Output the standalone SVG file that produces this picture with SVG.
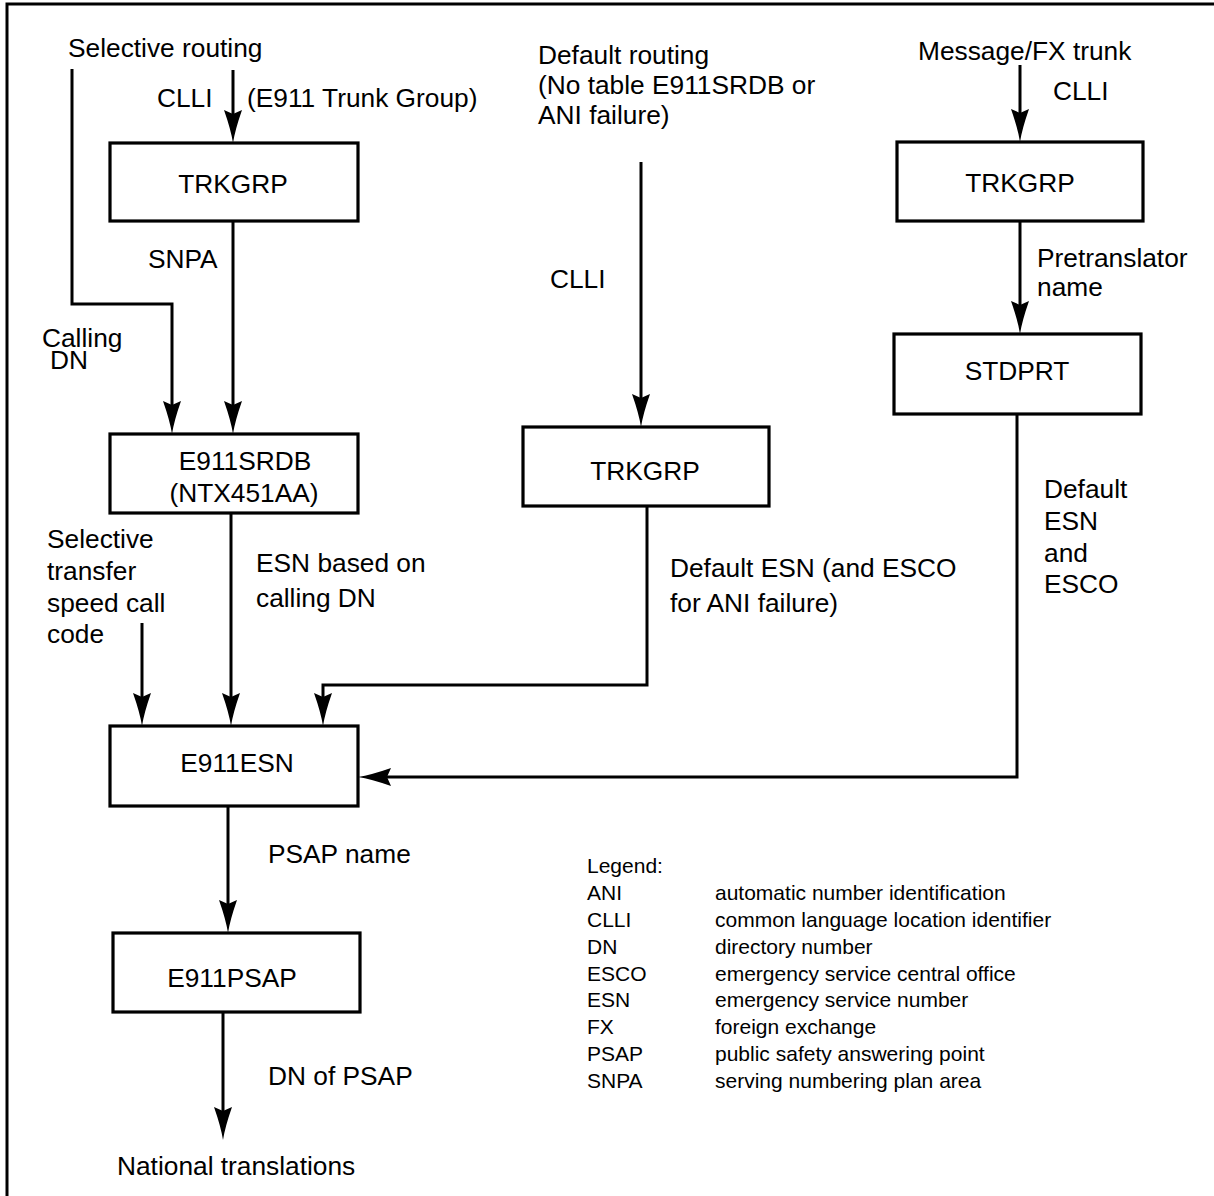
<svg xmlns="http://www.w3.org/2000/svg" width="1214" height="1196" viewBox="0 0 1214 1196">
<defs>
<style>
text{font-family:"Liberation Sans",Arial,sans-serif;font-size:26.3px;fill:#000}
.c{text-anchor:middle}
.lg{font-size:21px}
.box{fill:#fff;stroke:#000;stroke-width:3.2}
.ln{fill:none;stroke:#000;stroke-width:3}
</style>
<marker id="ah" viewBox="0 0 33 18" refX="23" refY="9" markerWidth="33" markerHeight="18" markerUnits="userSpaceOnUse" orient="auto">
<path d="M0,0 Q20,7 33,9 Q20,11 0,18 L4,9 Z" fill="#000"/>
</marker>
</defs>
<rect width="1214" height="1196" fill="#fff"/>
<path d="M7,1196 V4 H1214" fill="none" stroke="#000" stroke-width="3"/>

<g id="connectors">
<path class="ln" d="M72,69 V304 H172 V424" marker-end="url(#ah)"/>
<path class="ln" d="M233,70 V133" marker-end="url(#ah)"/>
<path class="ln" d="M233,221 V424" marker-end="url(#ah)"/>
<path class="ln" d="M231,513 V716" marker-end="url(#ah)"/>
<path class="ln" d="M142,623 V716" marker-end="url(#ah)"/>
<path class="ln" d="M641,162 V417" marker-end="url(#ah)"/>
<path class="ln" d="M647,506 V685 H323 V716" marker-end="url(#ah)"/>
<path class="ln" d="M1020,65 V132" marker-end="url(#ah)"/>
<path class="ln" d="M1020,221 V324" marker-end="url(#ah)"/>
<path class="ln" d="M1017,414 V777 H368" marker-end="url(#ah)"/>
<path class="ln" d="M228,806 V923" marker-end="url(#ah)"/>
<path class="ln" d="M223,1012 V1130" marker-end="url(#ah)"/>
</g>

<g id="labels">
<text x="68" y="57">Selective routing</text>
<text x="157" y="107">CLLI</text>
<text x="247" y="107">(E911 Trunk Group)</text>
<text x="538" y="64">Default routing</text>
<text x="538" y="94">(No table E911SRDB or</text>
<text x="538" y="124">ANI failure)</text>
<text x="550" y="288">CLLI</text>
<text x="918" y="60">Message/FX trunk</text>
<text x="1053" y="100">CLLI</text>
<text x="148" y="268">SNPA</text>
<text x="42" y="347">Calling</text>
<text x="50" y="369">DN</text>
<text x="1037" y="267">Pretranslator</text>
<text x="1037" y="296">name</text>
<text x="47" y="548">Selective</text>
<text x="47" y="580">transfer</text>
<text x="47" y="612">speed call</text>
<text x="47" y="643">code</text>
<text x="256" y="572">ESN based on</text>
<text x="256" y="607">calling DN</text>
<text x="670" y="577">Default ESN (and ESCO</text>
<text x="670" y="612">for ANI failure)</text>
<text x="1044" y="498">Default</text>
<text x="1044" y="530">ESN</text>
<text x="1044" y="562">and</text>
<text x="1044" y="593">ESCO</text>
<text x="268" y="863">PSAP name</text>
<text x="268" y="1085">DN of PSAP</text>
<text x="117" y="1175">National translations</text>
</g>

<g id="trkgrp-1"><rect class="box" x="110" y="143" width="248" height="78"/><text class="c" x="233" y="193">TRKGRP</text></g>
<g id="trkgrp-2"><rect class="box" x="523" y="427" width="246" height="79"/><text class="c" x="645" y="480">TRKGRP</text></g>
<g id="trkgrp-3"><rect class="box" x="897" y="142" width="246" height="79"/><text class="c" x="1020" y="192">TRKGRP</text></g>
<g id="stdprt"><rect class="box" x="894" y="334" width="247" height="80"/><text class="c" x="1017" y="380">STDPRT</text></g>
<g id="e911srdb"><rect class="box" x="110" y="434" width="248" height="79"/><text class="c" x="245" y="470">E911SRDB</text><text class="c" x="244" y="502">(NTX451AA)</text></g>
<g id="e911esn"><rect class="box" x="110" y="726" width="248" height="80"/><text class="c" x="237" y="772">E911ESN</text></g>
<g id="e911psap"><rect class="box" x="113" y="933" width="247" height="79"/><text class="c" x="232" y="987">E911PSAP</text></g>

<g id="legend" class="lg">
<text class="lg" x="587" y="873">Legend:</text>
<text class="lg" x="587" y="900">ANI</text><text class="lg" x="715" y="900">automatic number identification</text>
<text class="lg" x="587" y="927">CLLI</text><text class="lg" x="715" y="927">common language location identifier</text>
<text class="lg" x="587" y="954">DN</text><text class="lg" x="715" y="954">directory number</text>
<text class="lg" x="587" y="981">ESCO</text><text class="lg" x="715" y="981">emergency service central office</text>
<text class="lg" x="587" y="1007">ESN</text><text class="lg" x="715" y="1007">emergency service number</text>
<text class="lg" x="587" y="1034">FX</text><text class="lg" x="715" y="1034">foreign exchange</text>
<text class="lg" x="587" y="1061">PSAP</text><text class="lg" x="715" y="1061">public safety answering point</text>
<text class="lg" x="587" y="1088">SNPA</text><text class="lg" x="715" y="1088">serving numbering plan area</text>
</g>
</svg>
